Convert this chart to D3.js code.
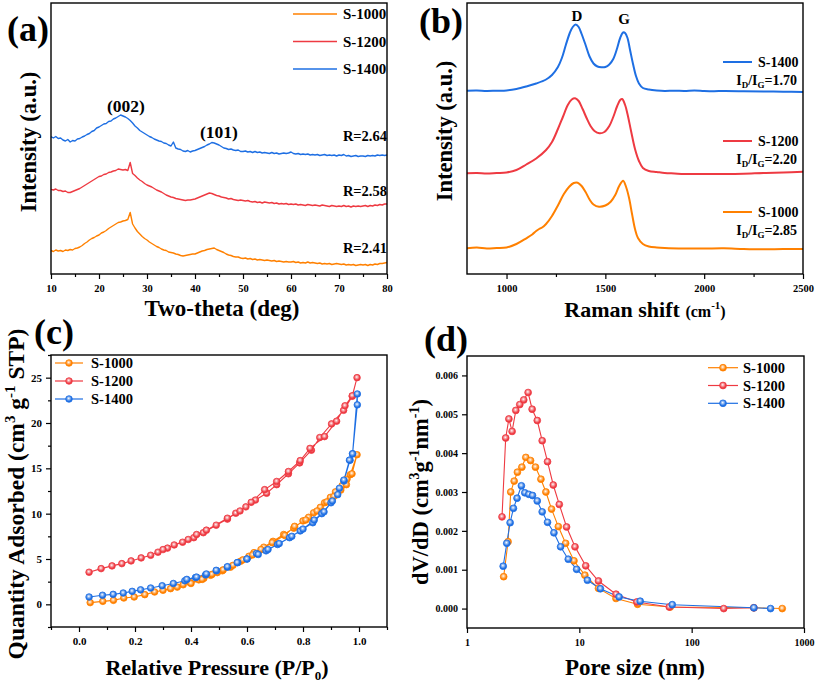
<!DOCTYPE html>
<html><head><meta charset="utf-8">
<script src="https://cdn.jsdelivr.net/npm/d3@7"></script>
<style>
body{margin:0;background:#fff}
text{font-family:"Liberation Serif","Times New Roman",serif;font-weight:bold;fill:#000}
</style>
</head><body>
<svg id="chart" width="817" height="683"></svg>
<script>
// ---------------- DATA ----------------
const seriesNames = ["S-1000", "S-1200", "S-1400"];
const seriesColors = ["#FF8000", "#EE3A42", "#1E6FE3"];

// (a) XRD, two-theta (deg), intensity in arbitrary units
const xrdTheta = [
10,10.5,11,11.5,12,12.5,13,13.5,14,14.5,15,15.5,16,16.5,17,17.5,18,18.5,19,19.5,
20,20.5,21,21.5,22,22.5,23,23.5,24,24.5,25,25.5,26,26.5,27,27.5,28,28.5,29,29.5,
30,30.5,31,31.5,32,32.5,33,33.5,34,34.5,35,35.5,36,36.5,37,37.5,38,38.5,39,39.5,
40,40.5,41,41.5,42,42.5,43,43.5,44,44.5,45,45.5,46,46.5,47,47.5,48,48.5,49,49.5,
50,50.5,51,51.5,52,52.5,53,53.5,54,54.5,55,55.5,56,56.5,57,57.5,58,58.5,59,59.5,
60,60.5,61,61.5,62,62.5,63,63.5,64,64.5,65,65.5,66,66.5,67,67.5,68,68.5,69,69.5,
70,70.5,71,71.5,72,72.5,73,73.5,74,74.5,75,75.5,76,76.5,77,77.5,78,78.5,79,79.5,80];
const xrd1000 = [
23.5,22.5,24,23,23.5,22.5,24,23.5,24.5,24, 25.5,26,27,28.5,30.5,32,34,35.5,36.5,38,
39,41,42,43.5,45.5,47,48.5,50,51.5,52, 53,53.5,54.5,61.5,50,46,42.5,40,37.5,35.5,
34,32,30.5,29,27.5,26.5,25,24,23.5,22, 21.5,21,20,19.5,18.5,18,18.5,19,19.5,20,
20,21,22,23,23.5,24.5,25,25.5,26,24.5, 23.5,22.5,21.5,20,19,18.5,17.5,17,17,16,
15.5,16,15,15.5,14.5,15,14,14.5,14,13.5, 14,13.5,13,13.5,12.5,13,12.5,12,12.5,12,
12,12.5,11.5,12,11,11.5,11,12,11,11.5, 11,10.5,11,10,10.5,10,10.5,9.5,10,10.5,
10,9.5,10,9,9.5,9,9.5,8.5,9,9.5, 9,9.5,8.5,9.5,9,10,9.5,10.5,10.5,11, 11.5];
const xrd1200 = [
84.7,84,85,83.5,83.5,82.5,83,81.5,81.5,82.5, 83.5,84.5,85.5,87,88.5,90,91.5,93,94.5,96,
97.5,98,99.5,100,101.5,102,103,103.5,105,104.5, 104,104.5,103.5,111.5,100.5,98.5,96,94,92.5,90.5,
89,88,87,85.5,84,83,82,80.5,79,78, 77,76.5,75.5,75,74.5,74,73.5,74,74,74.5,
75,76,77,78,79,80,81,80.5,79.5,78.5, 78,77,76.5,76,75,75.5,74.5,74,73.5,74,
73.5,73,73.5,72.5,72,72.5,71.5,72,71,72, 71.5,71,71.5,70.5,71,70,70.5,70,70.5,69.5,
70,69.5,70,69,69.5,69,68.5,69.5,69,68.5, 69,68.5,68,69,68.5,68,67.5,68.5,68,67.5,
68,67.5,68.5,67.5,68,67,68,67.5,68,67.5, 68,68.5,67.5,68.5,68,69,68.5,69.5,69,70, 70];
const xrd1400 = [
137.3,136,137.5,135.5,136,134,133,134.5,132,133.5, 133,135,135.5,137,138,139.5,140.5,142.5,143.5,146,
147,148.5,150,150.5,152.5,153,155,156,157.5,159, 158,157,155.5,153.5,151,148,146,143.5,142,140.5,
139,137.5,136.5,135,134,133,132.5,131,130.5,129, 128,132,126,125,124.5,123,122.5,123.5,122,123,
123.5,124.5,125.5,126.5,127.5,129,130,131.5,131,130, 129,127.5,126,125.5,124.5,125,124,123.5,124,122.5,
122.5,123,122,122.5,121.5,122.5,121.5,122,121,121.5, 121,120.5,121.5,120.5,121,120,120.5,121,120.5,121,
122,120.5,120,120.5,119.5,120,119.5,120,119,119.5, 119,119.5,118.5,119,119.5,118.5,119,118.5,119,118,
119,118.5,119.5,118,118.5,117.5,118,118.5,117.5,118, 118,117.5,118.5,118,118.5,118,119,118.5,119,118.5, 119];
const xrdTicks = [10, 20, 30, 40, 50, 60, 70, 80];
const xrdMinor = [15, 25, 35, 45, 55, 65, 75];
const xrdR = ["R=2.41", "R=2.58", "R=2.64"];
const xrdRLevel = [26, 83, 138];

// (b) Raman
const raman1000X = [800,850,900,950,1000,1050,1100,1130,1150,1165,1180,1200,1230,1260,1290,1317,1340,1360,1380,1400,1420,1440,1468,1500,1527,1550,1570,1590,1605,1620,1635,1650,1665,1690,1720,1760,1800,1900,2000,2100,2200,2300,2400,2500];
const raman1000Y = [25.7,26.5,25.5,26,26.5,30,35.7,39.5,43,45,46.5,50,58,68.5,80,87.3,91,91.3,88,82,74.5,69.5,67.3,68.5,72.3,79,88,93.3,87,76,60,45,36,30,27.5,26.5,26,25.5,25.5,25.7,25,24.7,25,25];
const raman1200X = [800,850,900,950,1000,1050,1100,1150,1200,1230,1260,1285,1310,1330,1347,1365,1385,1405,1425,1445,1470,1495,1520,1540,1560,1575,1585,1600,1612,1630,1650,1670,1690,1720,1760,1800,1850,1900,2000,2100,2200,2300,2400,2500];
const raman1200Y = [100.7,101,100.5,101,101.5,104,109.5,115.5,124,132,145,157,169,174.5,175.7,173,165,156,148,143,140.7,142,148,157,168,174,175,169,160,143,125,113,106,103,102,101,100.5,100,100,100,100.3,101,101.5,102.3];
const raman1400X = [800,850,900,950,1000,1050,1100,1150,1200,1230,1260,1280,1300,1320,1335,1350,1365,1380,1400,1420,1440,1460,1480,1500,1520,1540,1560,1575,1590,1600,1612,1625,1640,1655,1670,1690,1720,1760,1800,1850,1900,1950,2000,2050,2100,2200,2300,2400,2500];
const raman1400Y = [183.3,183.5,183,183.3,183.5,185,187.5,190.5,194.5,199,207,216,229,241,247,249.5,247,240,229,217.5,210.5,207.5,206.7,207,209.5,215,226,236,241.5,241,236,224,210,198,190.5,186,184.5,183.5,183,183.3,183,183.5,183,182.8,183,182.8,182.5,182.3,182];
const ramanTicks = [1000, 1500, 2000, 2500];
const ramanMinor = [1250, 1750, 2250];
const ramanRatio = ["2.85", "2.20", "1.70"];

// (c) N2 isotherms: relative pressure and quantity adsorbed (adsorption then desorption)
const bet1000P = [0.040,0.085,0.123,0.160,0.197,0.235,0.270,0.300,0.327,0.351,0.372,0.396,0.428,0.446,0.470,0.494,0.512,0.541,0.577,0.607,0.625,0.660,0.693,0.731,0.767,0.800,0.820,0.838,0.862,0.877,0.898,0.916,0.940,0.957,0.969,0.993,
                  0.975,0.955,0.935,0.910,0.885,0.850,0.810,0.770,0.735,0.690,0.650,0.620,0.585,0.550,0.515,0.475,0.440,0.400];
const bet1000Q = [0.19,0.33,0.44,0.70,0.81,1.07,1.36,1.55,1.73,1.90,2.16,2.40,2.70,2.87,3.20,3.50,3.70,4.10,4.75,5.30,5.70,6.30,6.95,7.70,8.40,9.20,9.60,10.10,10.70,11.20,11.80,12.40,13.10,13.80,14.30,16.50,
                  14.40,13.20,12.60,11.90,11.30,10.30,9.30,8.60,7.60,6.80,6.05,5.45,4.90,4.30,3.80,3.30,2.75,2.30];
const bet1200P = [0.036,0.079,0.118,0.153,0.186,0.222,0.256,0.282,0.316,0.340,0.370,0.410,0.444,0.490,0.530,0.560,0.596,0.630,0.670,0.706,0.748,0.788,0.830,0.860,0.902,0.945,0.976,0.993,
                  0.976,0.950,0.920,0.877,0.825,0.790,0.748,0.706,0.663,0.615,0.575,0.530,0.455,0.420,0.390,0.300];
const bet1200Q = [3.54,3.94,4.24,4.49,4.79,5.12,5.41,5.75,6.20,6.55,6.85,7.35,7.90,8.73,9.40,10.05,10.75,11.50,12.25,13.20,14.40,15.60,17.00,18.40,19.90,21.40,22.95,25.00,
                  23.00,21.90,20.20,18.50,17.20,15.85,14.65,13.55,12.65,11.25,10.30,9.50,8.18,7.70,7.15,6.04];
const bet1400P = [0.036,0.084,0.122,0.158,0.190,0.220,0.256,0.297,0.337,0.378,0.416,0.452,0.491,0.530,0.567,0.600,0.634,0.668,0.709,0.752,0.790,0.835,0.867,0.900,0.924,0.946,0.968,0.977,0.994,
                  0.994,0.977,0.966,0.946,0.930,0.905,0.875,0.840,0.800,0.760,0.715,0.675,0.640,0.600,0.565,0.530,0.490,0.455,0.420,0.385];
const bet1400Q = [0.81,1.00,1.10,1.25,1.43,1.60,1.80,2.05,2.30,2.60,2.96,3.25,3.70,4.10,4.60,5.00,5.60,5.90,6.60,7.35,8.10,9.00,10.00,11.20,12.10,13.60,15.90,16.60,23.20,
                  22.00,16.60,15.90,13.70,12.80,11.40,10.20,9.30,8.30,7.50,6.70,6.05,5.50,5.00,4.60,4.15,3.75,3.35,3.00,2.75];
const betXTicks = [0.0, 0.2, 0.4, 0.6, 0.8, 1.0];
const betXMinor = [-0.1, 0.1, 0.3, 0.5, 0.7, 0.9, 1.1];
const betYTicks = [0, 5, 10, 15, 20, 25];
const betYMinor = [-2.5, 2.5, 7.5, 12.5, 17.5, 22.5, 27.5];

// (d) pore size distribution
const psd1000D = [2.12,2.32,2.45,2.63,2.81,3.08,3.34,3.68,4.07,4.55,5.04,5.66,6.5,7.55,8.96,11.2,14.8,21.2,33,64.5,358,640];
const psd1000V = [0.00082,0.00172,0.00300,0.00328,0.00351,0.00364,0.00389,0.00381,0.00364,0.00333,0.00300,0.00256,0.00211,0.00168,0.00123,0.00086,0.00052,0.00026,0.00011,0.00004,0.00002,0.0];
const psd1200D = [2.05,2.21,2.36,2.52,2.72,2.95,3.2,3.5,3.8,4.22,4.67,5.21,5.86,6.63,7.7,9.15,11.4,14.8,21.2,32.5,63.2,193,358];
const psd1200V = [0.00236,0.00439,0.00488,0.00456,0.00510,0.00525,0.00537,0.00556,0.00513,0.00484,0.00432,0.00378,0.00318,0.00268,0.00210,0.00159,0.00110,0.00071,0.00037,0.00017,0.00004,0.0,0.00002];
const psd1400D = [2.1,2.26,2.42,2.59,2.79,3.05,3.27,3.55,3.83,4.22,4.67,5.21,5.94,6.81,7.97,9.46,11.8,15.4,22.6,34.8,67.2,358,504];
const psd1400V = [0.00109,0.00168,0.00221,0.00258,0.00284,0.00316,0.00298,0.00294,0.00291,0.00277,0.00249,0.00222,0.00195,0.00159,0.00127,0.00101,0.00073,0.00051,0.00030,0.00019,0.00010,0.00002,0.0];
const psdXTicks = [1, 10, 100, 1000];
const psdYTicks = [0, 0.001, 0.002, 0.003, 0.004, 0.005, 0.006];

// ---------------- DRAW ----------------
const svg = d3.select("#chart");
const defs = svg.append("defs");
seriesColors.forEach((c, i) => {
  const g = defs.append("radialGradient").attr("id", "sph" + i).attr("cx", "45%").attr("cy", "40%").attr("r", "60%");
  g.append("stop").attr("offset", "0%").attr("stop-color", "#fff");
  g.append("stop").attr("offset", "30%").attr("stop-color", d3.interpolateRgb("#fff", c)(0.45));
  g.append("stop").attr("offset", "75%").attr("stop-color", c);
  g.append("stop").attr("offset", "100%").attr("stop-color", c);
});

function styleAxis(g, fs) {
  g.attr("font-family", null).attr("font-size", fs);
  g.select(".domain").remove();
  g.selectAll("line").attr("stroke", "#000").attr("stroke-width", 1.2);
  g.selectAll("text").style("font-size", fs + "px");
}
function bottomAxis(scale, y, major, minor, fmt, fs, pad) {
  if (minor) {
    const m = svg.append("g").attr("transform", `translate(0,${y})`)
      .call(d3.axisBottom(scale).tickValues(minor).tickSize(3).tickFormat(""));
    styleAxis(m, fs);
  }
  const a = svg.append("g").attr("transform", `translate(0,${y})`)
    .call(d3.axisBottom(scale).tickValues(major).tickSize(5).tickPadding(pad).tickFormat(fmt));
  styleAxis(a, fs);
}
function leftAxis(scale, x, major, minor, fmt, fs, pad) {
  if (minor) {
    const m = svg.append("g").attr("transform", `translate(${x},0)`)
      .call(d3.axisLeft(scale).tickValues(minor).tickSize(3).tickFormat(""));
    styleAxis(m, fs);
  }
  const a = svg.append("g").attr("transform", `translate(${x},0)`)
    .call(d3.axisLeft(scale).tickValues(major).tickSize(5).tickPadding(pad).tickFormat(fmt));
  styleAxis(a, fs);
}
function frame(x, y) {
  const [x0, x1] = x.range(), [y0, y1] = y.range();
  svg.append("rect").attr("x", x0).attr("y", Math.min(y0, y1)).attr("width", x1 - x0).attr("height", Math.abs(y0 - y1))
    .attr("fill", "none").attr("stroke", "#000").attr("stroke-width", 1.4);
}
function txt(x, y, s, fs, anchor) {
  return svg.append("text").attr("x", x).attr("y", y).attr("font-size", fs).attr("text-anchor", anchor || "start").text(s);
}
function vlabel(cx, cy, fs) {
  return svg.append("text").attr("transform", `translate(${cx},${cy}) rotate(-90)`).attr("text-anchor", "middle").attr("font-size", fs);
}

// ---- Panel (a)
const xA = d3.scaleLinear().domain([10, 80]).range([51, 387]);
const yA = d3.scaleLinear().domain([0, 271]).range([274, 3]);
const xrdSeries = [xrd1000, xrd1200, xrd1400];
const lineA = d3.line().x((d, i) => xA(xrdTheta[i])).y(d => yA(d));
xrdSeries.forEach((s, i) => {
  svg.append("path").attr("d", lineA(s)).attr("fill", "none").attr("stroke", seriesColors[i]).attr("stroke-width", 1.4).attr("stroke-linejoin", "round");
});
frame(xA, yA);
bottomAxis(xA, 274, xrdTicks, xrdMinor, d3.format("d"), 10.5, 6);
txt(222, 316, "Two-theta (deg)", 23, "middle");
vlabel(36, 142, 22.5).text("Intensity (a.u.)");
txt(7, 41, "(a)", 36);
seriesNames.forEach((n, i) => {
  const y = 14 + i * 27.5;
  svg.append("line").attr("x1", 293).attr("x2", 337).attr("y1", y).attr("y2", y).attr("stroke", seriesColors[i]).attr("stroke-width", 1.5);
  txt(343, y + 5, n, 15);
});
txt(126, 112, "(002)", 17.5, "middle");
txt(219, 138, "(101)", 17.5, "middle");
xrdR.forEach((r, i) => txt(387, yA(xrdRLevel[i]) + 5, r, 14.5, "end"));

// ---- Panel (b)
const xB = d3.scaleLinear().domain([800, 2500]).range([467, 803]);
const yB = d3.scaleLinear().domain([0, 271]).range([274, 3]);
const ramanX = [raman1000X, raman1200X, raman1400X];
const ramanY = [raman1000Y, raman1200Y, raman1400Y];
ramanY.forEach((ys, i) => {
  const l = d3.line().x((d, j) => xB(ramanX[i][j])).y(d => yB(d)).curve(d3.curveCatmullRom.alpha(0.5));
  svg.append("path").attr("d", l(ys)).attr("fill", "none").attr("stroke", seriesColors[i]).attr("stroke-width", 2);
});
frame(xB, yB);
bottomAxis(xB, 274, ramanTicks, ramanMinor, d3.format("d"), 10.5, 6);
const rl = txt(645, 317, "Raman shift ", 22, "middle");
rl.append("tspan").attr("font-size", 16).text("(cm");
rl.append("tspan").attr("font-size", 11).attr("dy", -8).text("-1");
rl.append("tspan").attr("font-size", 16).attr("dy", 8).text(")");
vlabel(452, 131, 22.5).text("Intensity (a.u.)");
txt(419, 33, "(b)", 36);
txt(577, 21, "D", 15, "middle");
txt(624, 24, "G", 15, "middle");
const legBY = [212, 141, 62];
seriesNames.forEach((n, i) => {
  const y = legBY[i];
  svg.append("line").attr("x1", 723).attr("x2", 752).attr("y1", y).attr("y2", y).attr("stroke", seriesColors[i]).attr("stroke-width", 2);
  txt(758, y + 5, n, 14);
  const t = txt(797, y + 23, "I", 14, "end");
  t.append("tspan").attr("font-size", 9).attr("dy", 3).text("D");
  t.append("tspan").attr("dy", -3).text("/I");
  t.append("tspan").attr("font-size", 9).attr("dy", 3).text("G");
  t.append("tspan").attr("dy", -3).text("=" + ramanRatio[i]);
});

// ---- Panel (c)
const xC = d3.scaleLinear().domain([-0.1, 1.1]).range([51, 387]);
const yC = d3.scaleLinear().domain([-2.5, 27.5]).range([627, 355]);
const betP = [bet1000P, bet1200P, bet1400P];
const betQ = [bet1000Q, bet1200Q, bet1400Q];
betQ.forEach((qs, i) => {
  const l = d3.line().x((d, j) => xC(betP[i][j])).y(d => yC(d));
  svg.append("path").attr("d", l(qs)).attr("fill", "none").attr("stroke", seriesColors[i]).attr("stroke-width", 1.1);
});
betQ.forEach((qs, i) => {
  svg.append("g").selectAll("circle").data(qs).join("circle")
    .attr("cx", (d, j) => xC(betP[i][j])).attr("cy", d => yC(d)).attr("r", 3.3)
    .attr("fill", `url(#sph${i})`).attr("stroke", seriesColors[i]).attr("stroke-width", 0.8);
});
frame(xC, yC);
bottomAxis(xC, 627, betXTicks, betXMinor, d3.format(".1f"), 11, 5);
leftAxis(yC, 51, betYTicks, betYMinor, d3.format("d"), 11, 4);
txt(217, 675, "Relative Pressure (P/P", 22, "middle").call(t => {
  t.append("tspan").attr("font-size", 13).attr("dy", 5).text("0");
  t.append("tspan").attr("dy", -5).text(")");
});
const cl = vlabel(24, 494, 23.5);
cl.append("tspan").text("Quantity Adsorbed (cm");
cl.append("tspan").attr("font-size", 15).attr("dy", -9).text("3");
cl.append("tspan").attr("dy", 9).text(" g");
cl.append("tspan").attr("font-size", 15).attr("dy", -9).text("-1");
cl.append("tspan").attr("dy", 9).text(" STP)");
txt(34, 344, "(c)", 36);
seriesNames.forEach((n, i) => {
  const y = 363 + i * 18;
  svg.append("line").attr("x1", 55).attr("x2", 83).attr("y1", y).attr("y2", y).attr("stroke", seriesColors[i]).attr("stroke-width", 1.2);
  svg.append("circle").attr("cx", 69).attr("cy", y).attr("r", 3.3).attr("fill", `url(#sph${i})`).attr("stroke", seriesColors[i]).attr("stroke-width", 0.8);
  txt(91, y + 5, n, 14.5);
});

// ---- Panel (d)
const xD = d3.scaleLog().domain([1, 1000]).range([467, 804]);
const yD = d3.scaleLinear().domain([-0.0005, 0.0065]).range([628, 356]);
const psdD = [psd1000D, psd1200D, psd1400D];
const psdV = [psd1000V, psd1200V, psd1400V];
psdV.forEach((vs, i) => {
  const l = d3.line().x((d, j) => xD(psdD[i][j])).y(d => yD(d));
  svg.append("path").attr("d", l(vs)).attr("fill", "none").attr("stroke", seriesColors[i]).attr("stroke-width", 1.1);
});
psdV.forEach((vs, i) => {
  svg.append("g").selectAll("circle").data(vs).join("circle")
    .attr("cx", (d, j) => xD(psdD[i][j])).attr("cy", d => yD(d)).attr("r", 3.4)
    .attr("fill", `url(#sph${i})`).attr("stroke", seriesColors[i]).attr("stroke-width", 0.8);
});
frame(xD, yD);
bottomAxis(xD, 628, psdXTicks, null, d3.format("d"), 10, 6);
leftAxis(yD, 467, psdYTicks, null, d3.format(".3f"), 10, 4);
txt(635, 675, "Pore size (nm)", 23, "middle");
const dl = vlabel(428, 492, 22.5);
dl.append("tspan").text("dV/dD (cm");
dl.append("tspan").attr("font-size", 14).attr("dy", -9).text("3");
dl.append("tspan").attr("dy", 9).text("g");
dl.append("tspan").attr("font-size", 14).attr("dy", -9).text("-1");
dl.append("tspan").attr("dy", 9).text("nm");
dl.append("tspan").attr("font-size", 14).attr("dy", -9).text("-1");
dl.append("tspan").attr("dy", 9).text(")");
txt(424, 351, "(d)", 36);
seriesNames.forEach((n, i) => {
  const y = 367.7 + i * 17.8;
  svg.append("line").attr("x1", 708).attr("x2", 738).attr("y1", y).attr("y2", y).attr("stroke", seriesColors[i]).attr("stroke-width", 1.2);
  svg.append("circle").attr("cx", 723).attr("cy", y).attr("r", 3.4).attr("fill", `url(#sph${i})`).attr("stroke", seriesColors[i]).attr("stroke-width", 0.8);
  txt(743, y + 5, n, 14.5);
});
</script>
</body></html>
